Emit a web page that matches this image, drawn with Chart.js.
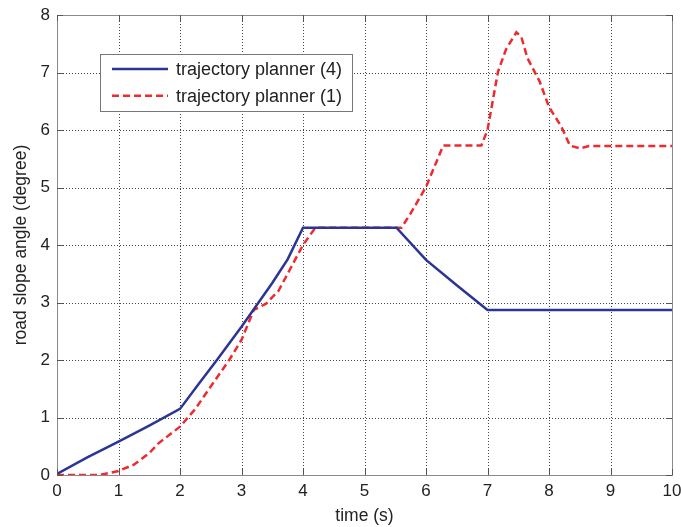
<!DOCTYPE html>
<html><head><meta charset="utf-8">
<script src="https://cdn.jsdelivr.net/npm/chart.js@4.4.1/dist/chart.umd.min.js"></script>
<style>html,body{margin:0;padding:0;background:#fff}#wrap{width:681px;height:527px}</style>
</head><body><div id="wrap"><canvas id="c" width="681" height="527"></canvas></div>
<script>
const seriesLabels = ["trajectory planner (4)", "trajectory planner (1)"];
const xTicks = [0,1,2,3,4,5,6,7,8,9,10];
const yTicks = [0,1,2,3,4,5,6,7,8];
const blueT = [0, 0.5, 1, 1.5, 2, 2.3, 2.6, 3, 3.5, 3.75, 4, 4.5, 5, 5.52, 6, 6.5, 7, 8, 9, 10];
const blueY = [0.02, 0.31, 0.58, 0.86, 1.15, 1.58, 2.0, 2.58, 3.34, 3.75, 4.3, 4.3, 4.3, 4.3, 3.74, 3.3, 2.87, 2.87, 2.87, 2.87];
const redT = [0, 0.7, 1, 1.25, 1.5, 1.65, 2, 2.25, 2.5, 2.8, 3, 3.2, 3.4, 3.6, 3.8, 4, 4.2, 4.5, 5, 5.6, 5.75, 6, 6.28, 6.5, 6.9, 7, 7.17, 7.3, 7.47, 7.55, 7.65, 7.85, 8, 8.2, 8.34, 8.5, 8.65, 9, 10];
const redY = [0, 0, 0.07, 0.18, 0.38, 0.55, 0.84, 1.15, 1.54, 2.0, 2.35, 2.87, 2.98, 3.2, 3.6, 4.0, 4.3, 4.3, 4.3, 4.3, 4.55, 5.01, 5.73, 5.73, 5.73, 6.0, 7.01, 7.4, 7.7, 7.62, 7.25, 6.84, 6.4, 6.06, 5.73, 5.68, 5.72, 5.72, 5.72];

const font = "'Liberation Sans', Arial, Helvetica, sans-serif";
const toPts = (t, y) => t.map((v, i) => ({x: v, y: y[i]}));

const gridPlugin = {
  id: 'dotGrid',
  beforeDatasetsDraw(chart) {
    const {ctx, chartArea: a} = chart;
    const xs = chart.scales.x, ys = chart.scales.y;
    ctx.save();
    ctx.strokeStyle = '#444';
    ctx.lineWidth = 1;
    ctx.setLineDash([1, 2]);
    xTicks.forEach(v => {
      const px = Math.round(xs.getPixelForValue(v)) + 0.5;
      ctx.beginPath(); ctx.moveTo(px, a.top); ctx.lineTo(px, a.bottom); ctx.stroke();
    });
    yTicks.forEach(v => {
      const py = Math.round(ys.getPixelForValue(v)) + 0.5;
      ctx.beginPath(); ctx.moveTo(a.left, py); ctx.lineTo(a.right, py); ctx.stroke();
    });
    ctx.restore();
  },
  afterDatasetsDraw(chart) {
    const {ctx, chartArea: a} = chart;
    const xs = chart.scales.x, ys = chart.scales.y;
    ctx.save();
    ctx.strokeStyle = '#8a8a8a';
    ctx.lineWidth = 1;
    ctx.setLineDash([]);
    ctx.strokeRect(Math.round(a.left) + 0.5, Math.round(a.top) + 0.5, Math.round(a.right - a.left), Math.round(a.bottom - a.top));
    ctx.strokeStyle = '#555';
    xTicks.forEach(v => {
      const px = Math.round(xs.getPixelForValue(v)) + 0.5;
      ctx.beginPath(); ctx.moveTo(px, a.bottom); ctx.lineTo(px, a.bottom - 6);
      ctx.moveTo(px, a.top); ctx.lineTo(px, a.top + 6); ctx.stroke();
    });
    yTicks.forEach(v => {
      const py = Math.round(ys.getPixelForValue(v)) + 0.5;
      ctx.beginPath(); ctx.moveTo(a.left, py); ctx.lineTo(a.left + 6, py);
      ctx.moveTo(a.right, py); ctx.lineTo(a.right - 6, py); ctx.stroke();
    });
    // legend box
    const lx = 100, ly = 54, lw = 252, lh = 57;
    ctx.fillStyle = '#fff';
    ctx.fillRect(lx, ly, lw, lh);
    ctx.strokeStyle = '#777';
    ctx.strokeRect(lx + 0.5, ly + 0.5, lw, lh);
    chart.data.datasets.forEach((ds, i) => {
      const yy = ly + 15 + i * 26.7;
      ctx.strokeStyle = ds.borderColor;
      ctx.lineWidth = 2.5;
      ctx.setLineDash(ds.borderDash || []);
      ctx.beginPath(); ctx.moveTo(112, yy); ctx.lineTo(168, yy); ctx.stroke();
      ctx.setLineDash([]);
      ctx.fillStyle = '#222';
      ctx.font = '18px ' + font;
      ctx.textBaseline = 'middle';
      ctx.fillText(ds.label, 176, yy + 1);
    });
    ctx.restore();
  }
};

new Chart(document.getElementById('c'), {
  type: 'line',
  data: {
    datasets: [
      {label: seriesLabels[0], data: toPts(blueT, blueY), borderColor: '#2b3594', borderWidth: 2.5, pointRadius: 0, tension: 0, fill: false},
      {label: seriesLabels[1], data: toPts(redT, redY), borderColor: '#ee2a2f', borderWidth: 2.5, borderDash: [7, 4], pointRadius: 0, tension: 0, fill: false}
    ]
  },
  options: {
    responsive: false,
    animation: false,
    devicePixelRatio: 1,
    layout: {padding: {top: 15, right: 9, left: 0, bottom: 0}},
    plugins: {legend: {display: false}, tooltip: {enabled: false}},
    scales: {
      x: {
        type: 'linear', min: 0, max: 10,
        afterBuildTicks: s => { s.ticks = xTicks.map(v => ({value: v})); },
        afterFit: s => { s.height = 52; s.paddingLeft = 0; s.paddingRight = 0; },
        grid: {display: false, drawTicks: false},
        border: {display: false},
        ticks: {font: {family: font, size: 17}, color: '#222', padding: 6, maxRotation: 0},
        title: {display: true, text: 'time (s)', font: {family: font, size: 17.5}, color: '#222', padding: {top: 4, bottom: 0}}
      },
      y: {
        type: 'linear', min: 0, max: 8,
        afterBuildTicks: s => { s.ticks = yTicks.map(v => ({value: v})); },
        afterFit: s => { s.width = 57; s.paddingTop = 0; s.paddingBottom = 0; },
        grid: {display: false, drawTicks: false},
        border: {display: false},
        ticks: {font: {family: font, size: 17}, color: '#222', padding: 7},
        title: {display: true, text: 'road slope angle (degree)', font: {family: font, size: 17.5}, color: '#222', padding: {top: 11, bottom: 0}}
      }
    }
  },
  plugins: [gridPlugin]
});
</script></body></html>
